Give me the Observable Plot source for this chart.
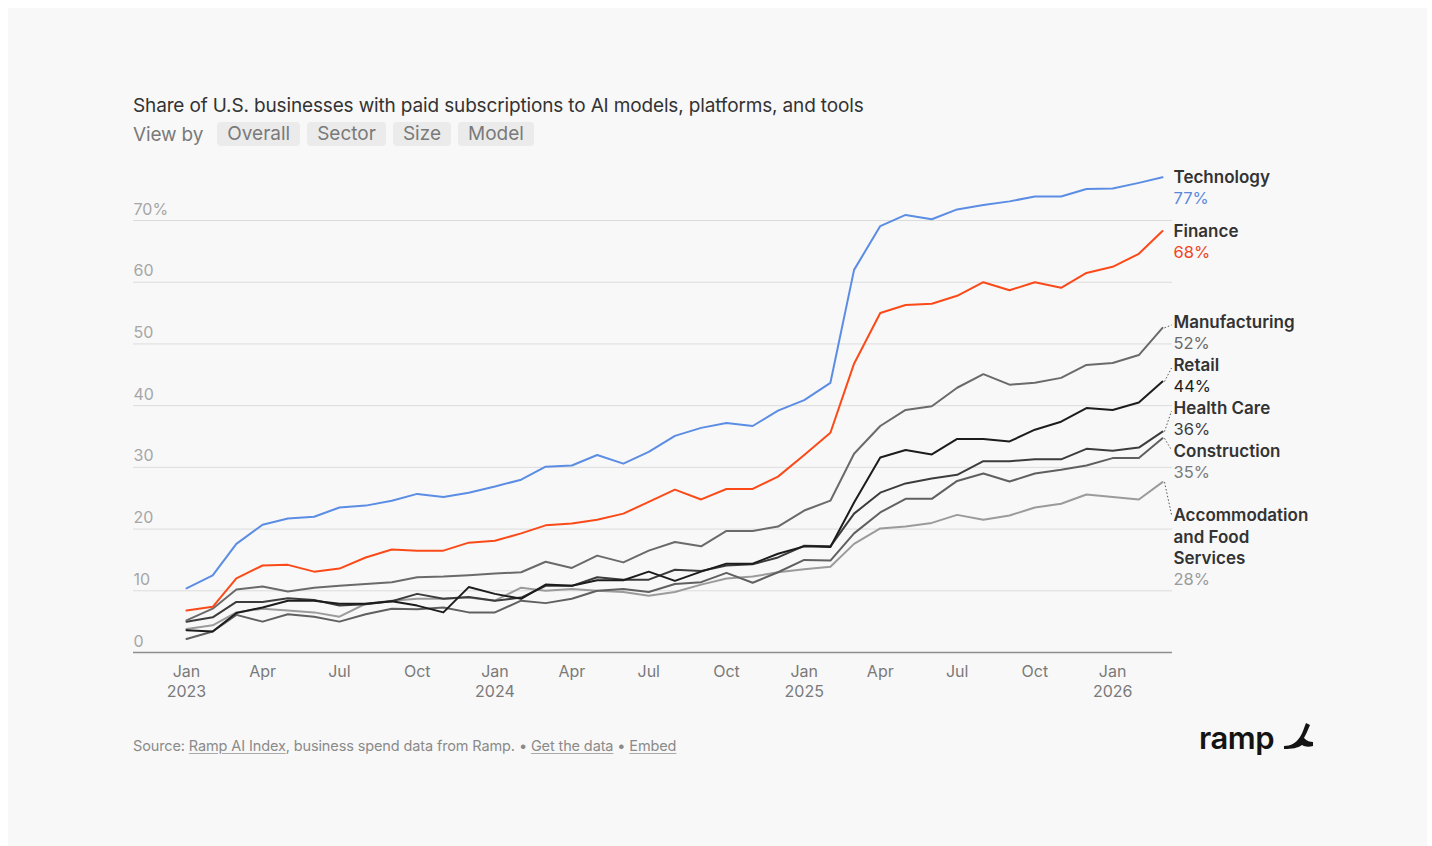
<!DOCTYPE html>
<html><head><meta charset="utf-8">
<script src="https://cdn.jsdelivr.net/npm/d3@7"></script>
<script src="https://cdn.jsdelivr.net/npm/@observablehq/plot@0.6"></script>
<style>
html,body{margin:0;padding:0;background:#fff;}
#page{position:relative;width:1432px;height:846px;overflow:hidden;font-family:Inter,"Noto Sans",sans-serif;}
#card{position:absolute;left:8px;top:8px;width:1419px;height:838px;background:#f8f8f8;}
#title{position:absolute;left:133px;top:94px;font-size:19px;line-height:23px;color:#333;letter-spacing:-0.15px;white-space:nowrap;}
#viewby{position:absolute;left:133px;top:122px;height:24px;font-size:19px;color:#7a7a7a;display:flex;align-items:center;letter-spacing:-0.15px;white-space:nowrap;}
#viewby .lab{margin-right:14px;}
#viewby .btn{background:#ebebeb;border-radius:4px;height:24px;line-height:24px;padding:0 10px;margin-right:7px;letter-spacing:0;}
#chart{position:absolute;left:0;top:150px;}
#footer{position:absolute;left:133px;top:737px;font-size:14.5px;line-height:18px;color:#8a8a8a;letter-spacing:-0.12px;white-space:nowrap;}
#footer u{text-decoration:underline;text-decoration-color:#aaa;text-underline-offset:2px;}
#logo{position:absolute;left:1199px;top:718px;height:40px;display:flex;align-items:center;}
#logo .word{font-size:31px;font-weight:600;color:#141414;letter-spacing:-0.5px;line-height:40px;}
</style></head>
<body>
<div id="page">
  <div id="card"></div>
  <div id="title">Share of U.S. businesses with paid subscriptions to AI models, platforms, and tools</div>
  <div id="viewby"><span class="lab">View by</span><span class="btn">Overall</span><span class="btn">Sector</span><span class="btn">Size</span><span class="btn">Model</span></div>
  <div id="chart"></div>
  <div id="footer">Source: <u>Ramp AI Index</u>, business spend data from Ramp. • <u>Get the data</u> • <u>Embed</u></div>
  <div id="logo"><span class="word">ramp</span>
    <svg width="32" height="30" viewBox="0 0 32 30" style="margin-left:8px;margin-top:-6px">
      <path d="M2 26 C9 26 14 23 18 17 C21 12 22 8 24 3 L28 5 C26 10 24 14 22 18 C25 21 28 22 31 22 L31 26 C27 27 23 27 20 25 C16 28 10 29 2 29 Z" fill="#141414"/>
    </svg>
  </div>
</div>
<script>
// ---- data (monthly, Jan 2023 – Mar 2026), percent of businesses ----
const startMonth = [2023, 0];
const monthCount = 39;
const technology   = [10.4,12.5,17.6,20.7,21.7,22.0,23.5,23.8,24.6,25.7,25.2,25.9,26.9,28.0,30.1,30.3,32.0,30.6,32.5,35.1,36.4,37.2,36.7,39.2,40.9,43.7,62.0,69.1,70.9,70.2,71.8,72.5,73.1,73.9,73.9,75.1,75.2,76.1,77.0];
const finance      = [6.8,7.4,12.0,14.1,14.2,13.1,13.6,15.4,16.7,16.5,16.5,17.8,18.1,19.3,20.6,20.9,21.5,22.5,24.4,26.4,24.8,26.5,26.5,28.5,32.0,35.6,46.8,55.0,56.3,56.5,57.8,60.0,58.7,60.0,59.1,61.5,62.5,64.6,68.3];
const manufacturing= [5.2,7.1,10.2,10.7,9.9,10.5,10.8,11.1,11.4,12.2,12.3,12.5,12.8,13.0,14.7,13.7,15.7,14.6,16.5,17.9,17.2,19.7,19.7,20.4,23.0,24.6,32.2,36.7,39.3,39.9,42.9,45.1,43.4,43.7,44.5,46.6,46.9,48.2,52.6];
const retail       = [3.6,3.4,6.4,7.3,8.4,8.4,7.9,7.9,8.3,7.6,6.5,10.6,9.5,8.7,11.0,10.8,11.7,11.7,13.1,11.6,13.1,14.4,14.4,16.0,17.2,17.1,24.3,31.6,32.8,32.1,34.6,34.6,34.2,36.1,37.4,39.6,39.3,40.5,43.9];
const healthCare   = [5.0,5.7,8.2,8.2,8.8,8.5,7.6,7.8,8.3,9.5,8.7,9.0,8.4,8.9,10.8,10.8,12.2,11.8,11.8,13.4,13.2,14.1,14.3,15.4,17.3,17.2,22.5,25.9,27.4,28.2,28.8,31.0,31.0,31.3,31.3,33.0,32.7,33.2,35.8];
const construction = [2.2,3.4,6.1,5.0,6.2,5.8,5.0,6.2,7.1,7.0,7.3,6.5,6.5,8.4,8.0,8.7,10.0,10.3,9.8,11.1,11.4,12.9,11.3,13.0,15.0,14.9,19.3,22.7,24.9,24.9,27.8,29.0,27.7,29.0,29.6,30.3,31.5,31.5,34.7];
const accommodation= [3.8,4.4,6.5,7.1,6.8,6.5,5.8,7.9,8.4,8.7,8.7,8.9,8.4,10.5,10.0,10.3,10.0,9.8,9.2,9.8,11.0,12.0,12.3,13.0,13.5,13.9,17.6,20.1,20.4,21.0,22.3,21.5,22.2,23.5,24.1,25.6,25.2,24.8,27.6];
const sectorNames  = ["Technology","Finance","Manufacturing","Retail","Health Care","Construction","Accommodation\nand Food\nServices"];
const sectorLabels = ["77%","68%","52%","44%","36%","35%","28%"];
const yTicks = [0,10,20,30,40,50,60,70];
const xTickMonths = ["2023-01","2023-04","2023-07","2023-10","2024-01","2024-04","2024-07","2024-10","2025-01","2025-04","2025-07","2025-10","2026-01"];
const xTickLabels = ["Jan\n2023","Apr","Jul","Oct","Jan\n2024","Apr","Jul","Oct","Jan\n2025","Apr","Jul","Oct","Jan\n2026"];

// ---- styles ----
const lineColors = ["#5b8de4","#fb4a18","#6a6a6a","#1c1c1c","#3c3c3c","#606060","#9b9b9b"];
const pctColors  = ["#5a88dc","#f2431a","#6a6a6a","#1c1c1c","#3c3c3c","#7a7a7a","#9b9b9b"];

const months = d3.utcMonth.range(new Date(Date.UTC(startMonth[0], startMonth[1], 1)), new Date(Date.UTC(startMonth[0], startMonth[1] + monthCount, 1)));
const seriesValues = [technology, finance, manufacturing, retail, healthCare, construction, accommodation];
const sectors = sectorNames.map((name, i) => ({
  name, pct: sectorLabels[i], color: lineColors[i], pctColor: pctColors[i],
  rows: seriesValues[i].map((v, j) => ({date: months[j], value: v}))
}));

const W = 1432, H = 560;
const xRange = [186, 1162], yRange = [502, 70];
const xs = d3.scaleUtc([months[0], months[months.length - 1]], xRange);
const ys = d3.scaleLinear([0, 70], yRange);

// label dodge: boxes of height lines*LH centred on the first line, pool-adjacent-violators
const LH = 21.5;
const lastDate = months[months.length - 1];
const labels = sectors.map(s => {
  const last = s.rows[s.rows.length - 1].value;
  return {...s, last, target: ys(last), lines: s.name.split("\n").length + 1};
}).sort((a, b) => a.target - b.target);
(function dodge(items) {
  const off = [0];
  for (let i = 1; i < items.length; i++) off[i] = off[i - 1] + (items[i - 1].lines + items[i].lines) * LH / 2;
  const blocks = [];
  items.forEach((d, i) => {
    blocks.push({sum: d.target - off[i], n: 1});
    while (blocks.length > 1) {
      const a = blocks[blocks.length - 2], b = blocks[blocks.length - 1];
      if (a.sum / a.n > b.sum / b.n) { a.sum += b.sum; a.n += b.n; blocks.pop(); } else break;
    }
  });
  let i = 0;
  blocks.forEach(b => { const m = b.sum / b.n; for (let k = 0; k < b.n; k++, i++) items[i].pos = m + off[i]; });
})(labels);
const textX = xs.invert(xs(lastDate) + 11);
const leadX1 = xs.invert(xs(lastDate) + 2);
const leadX2 = xs.invert(xs(lastDate) + 9);
labels.forEach(d => {
  d.nameY = ys.invert(d.pos);
  d.pctY = ys.invert(d.pos + (d.lines - 1) * LH);
  d.leadY2 = ys.invert(d.pos + (d.pos > d.target ? -1 : 3));
});
const leaders = labels.filter(d => Math.abs(d.pos - d.target) > 3);

const drawOrder = [6, 5, 4, 2, 3, 1, 0];
const chart = Plot.plot({
  width: W, height: H,
  marginLeft: 133, marginRight: W - 1172, marginTop: 0, marginBottom: H - yRange[0],
  style: {background: "transparent", fontFamily: "Inter, 'Noto Sans', sans-serif", overflow: "visible"},
  x: {type: "utc", domain: [months[0], lastDate], range: xRange, axis: null},
  y: {domain: [0, 70], range: yRange, axis: null},
  marks: [
    Plot.ruleY(yTicks.filter(d => d > 0), {stroke: "#dcdcdc", strokeWidth: 1}),
    Plot.ruleY([0], {stroke: "#8e8e8e", strokeWidth: 1.5}),
    Plot.text(yTicks, {y: d => d, text: d => d === 70 ? "70%" : String(d), frameAnchor: "left", textAnchor: "start", lineAnchor: "middle", dy: -11, fill: "#a6a6a6", fontSize: 16}),
    Plot.text(xTickMonths.map((m, i) => ({date: new Date(m + "-01T00:00:00Z"), label: xTickLabels[i]})), {x: "date", text: "label", frameAnchor: "bottom", lineAnchor: "top", dy: 10, fill: "#7a7a7a", fontSize: 16, lineHeight: 1.25}),
    ...drawOrder.map(i => Plot.line(sectors[i].rows, {x: "date", y: "value", stroke: sectors[i].color, strokeWidth: 2, strokeLinejoin: "round"})),
    Plot.link(leaders, {x1: () => leadX1, y1: "last", x2: () => leadX2, y2: "leadY2", stroke: "#555", strokeWidth: 1, strokeDasharray: "1.5,2"}),
    Plot.text(labels, {x: () => textX, y: "nameY", text: "name", textAnchor: "start", lineAnchor: "top", dy: -9.5, fill: "#333", fontSize: 17, fontWeight: 600, lineHeight: LH / 17}),
    Plot.text(labels, {x: () => textX, y: "pctY", text: "pct", textAnchor: "start", lineAnchor: "middle", fill: d => d.pctColor, fontSize: 16.5})
  ]
});
document.getElementById("chart").appendChild(chart);
</script>
</body></html>
